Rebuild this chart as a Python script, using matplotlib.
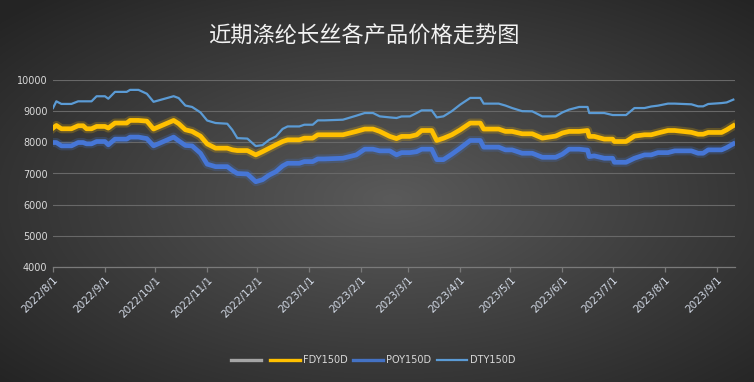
import numpy as np
import pandas as pd
import matplotlib
matplotlib.use('Agg')
import matplotlib.pyplot as plt
import matplotlib.dates as mdates
from matplotlib.lines import Line2D
from matplotlib.ticker import FuncFormatter

title = '近期涤纶长丝各产品价格走势图'
start = pd.Timestamp('2022-08-01')

# days after 2022/8/1
day_offset = [0, 2, 5, 11, 15, 18, 20, 23, 26, 31, 33, 37, 44, 46, 51, 56, 60,
              72, 75, 79, 83, 88, 92, 97, 104, 107, 110, 116, 121, 125, 129,
              133, 137, 140, 147, 150, 155, 158, 162, 173, 181, 186, 191, 195,
              201, 205, 208, 213, 217, 220, 226, 229, 233, 238, 243, 249, 255,
              257, 266, 270, 274, 280, 286, 292, 300, 304, 308, 314, 319, 320,
              323, 329, 334, 335, 342, 347, 353, 357, 361, 367, 371, 381, 385,
              388, 391, 399, 402, 406]

fdy = [8458, 8542, 8435, 8435, 8532, 8532, 8435, 8435, 8510, 8510, 8458, 8619,
       8619, 8703, 8703, 8680, 8426, 8703, 8600, 8403, 8350, 8200, 7950, 7813,
       7813, 7760, 7736, 7736, 7597, 7700, 7810, 7920, 8026, 8080, 8080, 8135,
       8135, 8242, 8242, 8242, 8350, 8426, 8426, 8350, 8190, 8120, 8190, 8190,
       8242, 8380, 8380, 8060, 8130, 8242, 8400, 8618, 8618, 8426, 8426, 8350,
       8350, 8274, 8274, 8135, 8200, 8300, 8350, 8350, 8380, 8190, 8190, 8103,
       8103, 8026, 8026, 8200, 8242, 8242, 8300, 8380, 8380, 8320, 8260, 8260,
       8317, 8317, 8400, 8533]

poy = [7994, 7994, 7887, 7887, 7994, 7994, 7952, 7952, 8026, 8026, 7920, 8103,
       8103, 8168, 8168, 8120, 7887, 8168, 8050, 7900, 7887, 7650, 7300, 7220,
       7220, 7100, 7000, 6984, 6736, 6800, 6950, 7058, 7242, 7328, 7328, 7382,
       7382, 7467, 7467, 7490, 7597, 7780, 7780, 7726, 7726, 7597, 7670, 7670,
       7700, 7780, 7780, 7445, 7445, 7620, 7813, 8060, 8060, 7845, 7845, 7758,
       7758, 7650, 7650, 7521, 7521, 7620, 7780, 7780, 7750, 7543, 7565, 7490,
       7490, 7360, 7360, 7490, 7597, 7597, 7670, 7670, 7726, 7726, 7650, 7650,
       7758, 7758, 7830, 7952]

dty = [9100, 9316, 9232, 9232, 9316, 9316, 9316, 9316, 9478, 9478, 9400, 9619,
       9619, 9683, 9683, 9560, 9300, 9480, 9420, 9180, 9135, 8960, 8700, 8620,
       8597, 8400, 8135, 8120, 7880, 7910, 8080, 8190, 8430, 8510, 8510, 8565,
       8565, 8705, 8705, 8726, 8855, 8940, 8940, 8833, 8800, 8780, 8830, 8833,
       8940, 9026, 9026, 8800, 8833, 9000, 9210, 9425, 9425, 9242, 9242, 9180,
       9100, 9000, 8995, 8833, 8833, 8960, 9050, 9135, 9135, 8940, 8940, 8940,
       8876, 8876, 8876, 9100, 9100, 9150, 9177, 9242, 9242, 9220, 9155, 9155,
       9230, 9260, 9280, 9371]

y_ticks = [4000, 5000, 6000, 7000, 8000, 9000, 10000]

dates = start + pd.to_timedelta(day_offset, unit='D')

W, H = 754, 382
fig = plt.figure(figsize=(W / 100, H / 100), dpi=100)

# dark radial background
yy, xx = np.mgrid[0:H, 0:W]
r = np.sqrt(((xx - W * 0.52) / (W / 2)) ** 2 + ((yy - H * 0.52) / (H / 2)) ** 2) / np.sqrt(2)
r = np.clip(r, 0, 1)
g = (90 - 54 * r) / 255.0
bg = fig.add_axes([0, 0, 1, 1], zorder=-1)
bg.imshow(np.dstack([g, g, g]), aspect='auto', interpolation='bilinear')
bg.axis('off')

ax = fig.add_axes([53 / W, 1 - 267 / H, (735 - 53) / W, (267 - 80) / H])
ax.patch.set_alpha(0)

ax.plot(dates, fdy, color='#FFC000', lw=6.5, alpha=0.22, solid_joinstyle='round')
ax.plot(dates, fdy, color='#FFC000', lw=3.4, solid_joinstyle='round')
ax.plot(dates, poy, color='#4472C4', lw=6.5, alpha=0.25, solid_joinstyle='round')
ax.plot(dates, poy, color='#4676D6', lw=3.4, solid_joinstyle='round')
ax.plot(dates, dty, color='#5B9BD5', lw=1.6, solid_joinstyle='round')

ax.set_ylim(4000, 10000)
ax.set_yticks(y_ticks)
ax.set_xlim(start, start + pd.Timedelta(days=407))
ax.xaxis.set_major_locator(mdates.MonthLocator())
ax.xaxis.set_major_formatter(FuncFormatter(
    lambda v, p: '{0.year}/{0.month}/{0.day}'.format(mdates.num2date(v))))

ax.grid(axis='y', color='#686868', lw=0.8)
ax.set_axisbelow(True)
for s in ['left', 'right', 'top']:
    ax.spines[s].set_visible(False)
ax.spines['bottom'].set_color('#7a7a7a')
ax.spines['bottom'].set_linewidth(0.9)

ax.tick_params(axis='y', length=0, pad=4, labelsize=7, labelcolor='#d9d9d9')
ax.tick_params(axis='x', length=3.6, width=0.9, color='#7a7a7a', pad=2,
               labelsize=7.5, labelcolor='#d3dae6')
for lbl in ax.get_xticklabels():
    lbl.set_rotation(45)
    lbl.set_ha('right')
    lbl.set_rotation_mode('anchor')

fig.text(0.483, 1 - 36 / H, title, ha='center', va='center', fontsize=16,
         fontweight='medium', color='#f2f2f2',
         family=['Noto Sans CJK SC', 'DejaVu Sans'])

handles = [Line2D([], [], color='#A5A5A5', lw=2.4),
           Line2D([], [], color='#FFC000', lw=2.4),
           Line2D([], [], color='#4472C4', lw=2.4),
           Line2D([], [], color='#5B9BD5', lw=1.6)]
labels = ['', 'FDY150D', 'POY150D', 'DTY150D']
fig.legend(handles, labels, loc='center', bbox_to_anchor=(0.495, 1 - 360 / H),
           ncol=4, frameon=False, fontsize=7, labelcolor='#d9d9d9',
           handlelength=3.1, handletextpad=0.3, columnspacing=0.6)

fig.savefig('out.png', dpi=100)
